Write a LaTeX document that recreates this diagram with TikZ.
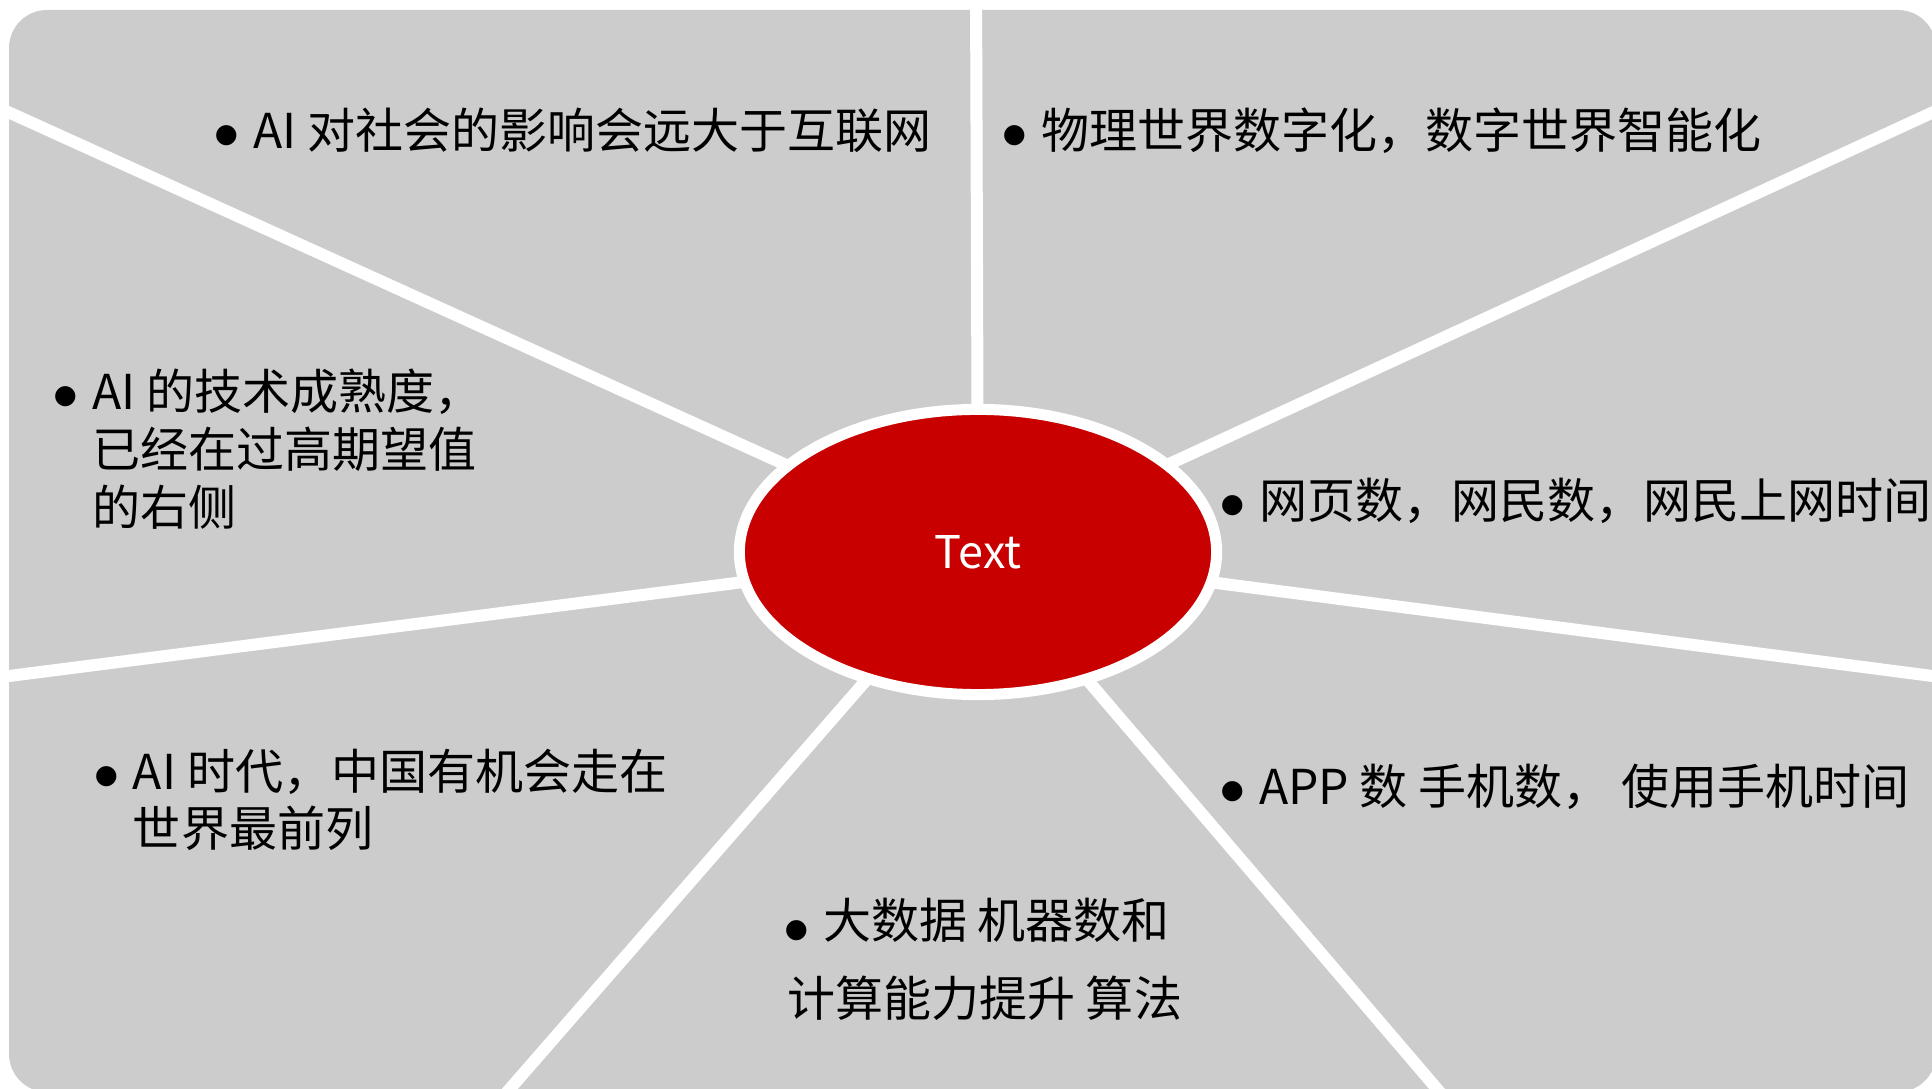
\documentclass[tikz,border=0pt]{standalone}
\usepackage{fontspec}
\setmainfont{Noto Sans CJK SC}
\newfontfamily\bulfont{DejaVu Sans}
\usetikzlibrary{shapes.geometric,backgrounds}
\definecolor{panelgray}{RGB}{204,204,204}
\definecolor{hubred}{RGB}{200,0,0}
\newcommand{\bulmark}[1][0.065cm]{\llap{\raisebox{#1}{\makebox[0pt]{\bulfont\fontsize{7.5pt}{8pt}\selectfont ●}}\hspace{0.265cm}}}
\begin{document}
\begin{tikzpicture}[x=0.01cm,y=-0.01cm,
  txt/.style={font=\fontsize{13.66pt}{16pt}\selectfont, text=black, inner sep=0pt, outer sep=0pt, anchor=base west},
  spoke/.style={draw=white, line width=0.12cm},
  hubstyle/.style={ellipse, fill=hubred, draw=white, line width=0.11cm, minimum width=4.77cm, minimum height=2.85cm, inner sep=0pt, text=white, font=\fontsize{12.8pt}{15pt}\selectfont}]
\useasboundingbox (0,0) rectangle (1932,1089);

\node[hubstyle] (hub) at (978,552) {Text};

\coordinate (e1) at (976,-20);
\coordinate (e2) at (-100,63);
\coordinate (e3) at (2040,63);
\coordinate (e4) at (-100,690);
\coordinate (e5) at (2040,690);
\coordinate (e6) at (413,1200);
\coordinate (e7) at (1532,1200);

\begin{pgfonlayer}{background}
  \fill[panelgray, rounded corners=0.38cm] (9,10) rectangle (1936,1092);
  \foreach \e in {e1,e2,e3,e4,e5,e6,e7} {
    \draw[spoke] (hub.center) -- (\e);
  }
\end{pgfonlayer}

% top-left
\node[txt] (t1) at (253,149) {\bulmark AI 对社会的影响会远大于互联网};
% top-right
\node[txt] (t2) at (1041,149) {\bulmark 物理世界数字化，数字世界智能化};
% left
\node[txt] (t3a) at (92,410) {\bulmark AI 的技术成熟度，};
\node[txt] (t3b) at (92,468) {已经在过高期望值};
\node[txt] (t3c) at (92,526) {的右侧};
% right
\node[txt] (t4) at (1259,519) {\bulmark 网页数，网民数，网民上网时间};
% lower-left
\node[txt] (t5a) at (133,790) {\bulmark AI 时代，中国有机会走在};
\node[txt] (t5b) at (133,847) {世界最前列};
% lower-right
\node[txt] (t6) at (1259,805) {\bulmark APP 数 手机数， 使用手机时间};
% bottom
\node[txt] (t7a) at (823,939) {\bulmark[0.015cm]大数据 机器数和};
\node[txt] (t7b) at (787,1017) {计算能力提升 算法};
\end{tikzpicture}
\end{document}
